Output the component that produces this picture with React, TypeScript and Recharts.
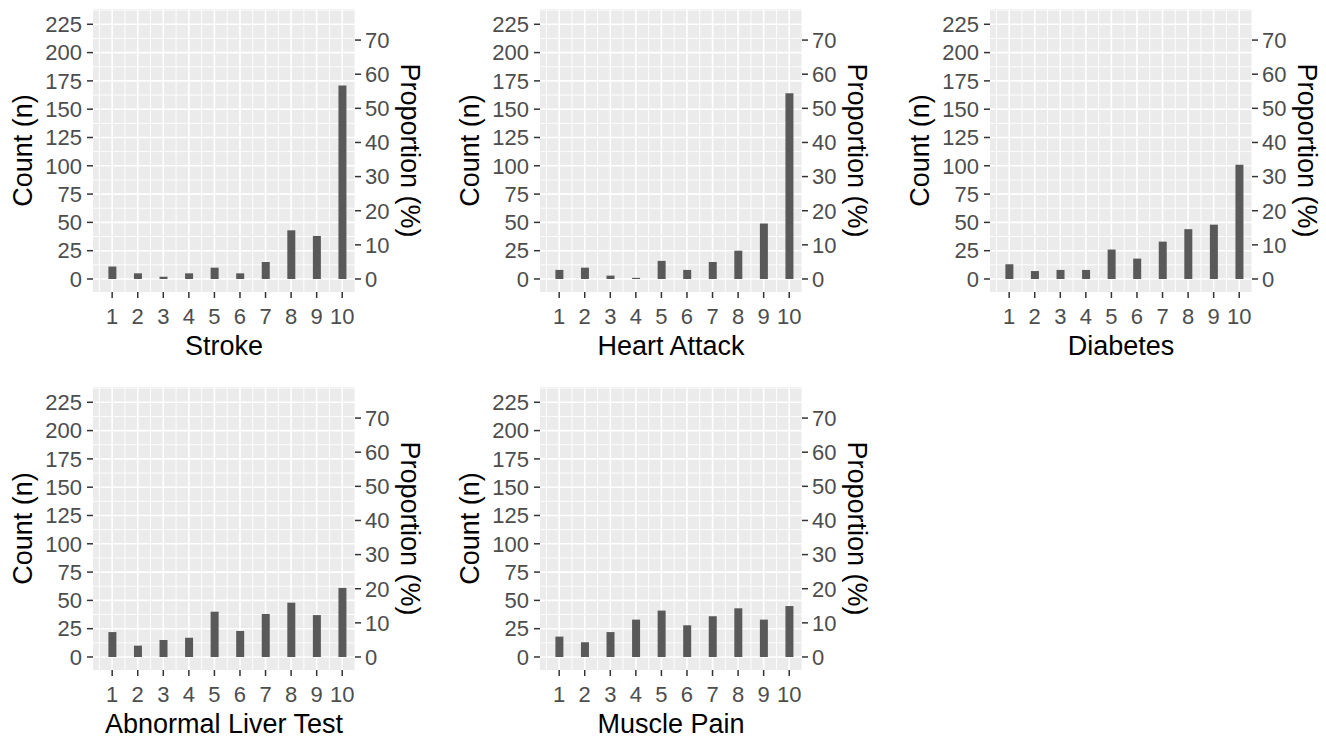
import { BarChart, Bar, XAxis, YAxis, CartesianGrid } from 'recharts'

// ---------- data ----------

const scores = [1, 2, 3, 4, 5, 6, 7, 8, 9, 10]

const stroke = [11, 5, 2, 5, 10, 5, 15, 43, 38, 171]
const heartAttack = [8, 10, 3, 1, 16, 8, 15, 25, 49, 164]
const diabetes = [13, 7, 8, 8, 26, 18, 33, 44, 48, 101]
const abnormalLiverTest = [22, 10, 15, 17, 40, 23, 38, 48, 37, 61]
const musclePain = [18, 13, 22, 33, 41, 28, 36, 43, 33, 45]

const countTicks = [0, 25, 50, 75, 100, 125, 150, 175, 200, 225]
const countMinor = [12.5, 37.5, 62.5, 87.5, 112.5, 137.5, 162.5, 187.5, 212.5, 237.5]
const pctTicks = [0, 10, 20, 30, 40, 50, 60, 70]
const scoreMinor = [0.5, 1.5, 2.5, 3.5, 4.5, 5.5, 6.5, 7.5, 8.5, 9.5, 10.5]

// respondents behind the proportion axis
const sampleSize = 301.5

const countDomain = [-11.5, 238.5]
const pctDomain = countDomain.map((v) => (v / sampleSize) * 100)

const FONT = '"Liberation Sans", Arial, sans-serif'
const tickStyle = { fill: '#4d4d4d', fontSize: 22, fontFamily: FONT }
const TITLE_SIZE = 27

function Panel({ title, counts, left, top }: { title: string; counts: number[]; left: number; top: number }) {
    const data = scores.map((s, i) => ({ score: s, n: counts[i] }))
    return (
        <div style={{ position: 'absolute', left, top }}>
            <BarChart width={440} height={370} data={data} margin={{ top: 9, right: 0, bottom: 0, left: 0 }}>
                <CartesianGrid
                    yAxisId="n"
                    fill="#ebebeb"
                    stroke="#ffffff"
                    strokeWidth={0.9}
                    horizontalValues={countMinor}
                    verticalValues={scoreMinor}
                />
                <CartesianGrid
                    yAxisId="n"
                    stroke="#ffffff"
                    strokeWidth={1.6}
                    horizontalValues={countTicks}
                    verticalValues={scores}
                />
                <XAxis
                    type="number"
                    dataKey="score"
                    domain={[0.25, 10.5]}
                    ticks={scores}
                    interval={0}
                    allowDataOverflow
                    height={78}
                    axisLine={false}
                    tickLine={{ stroke: '#333333', strokeWidth: 1.5 }}
                    tickSize={6}
                    tickMargin={10}
                    tick={tickStyle}
                    label={(p: any) => {
                        const vb = p.viewBox
                        return (
                            <text
                                x={vb.x + vb.width / 2}
                                y={vb.y + 63}
                                textAnchor="middle"
                                fontSize={TITLE_SIZE}
                                fontFamily={FONT}
                                fill="#000000">
                                {title}
                            </text>
                        )
                    }}
                />
                <YAxis
                    yAxisId="n"
                    domain={countDomain}
                    ticks={countTicks}
                    interval={0}
                    allowDataOverflow
                    width={93}
                    axisLine={false}
                    tickLine={{ stroke: '#333333', strokeWidth: 1.5 }}
                    tickSize={6}
                    tickMargin={5}
                    tick={tickStyle}
                    label={(p: any) => {
                        const vb = p.viewBox
                        const cy = vb.y + vb.height / 2
                        return (
                            <text
                                x={vb.x + 32}
                                y={cy}
                                transform={`rotate(-90, ${vb.x + 32}, ${cy})`}
                                textAnchor="middle"
                                fontSize={TITLE_SIZE}
                                fontFamily={FONT}
                                fill="#000000">
                                Count (n)
                            </text>
                        )
                    }}
                />
                <YAxis
                    yAxisId="pct"
                    orientation="right"
                    domain={pctDomain}
                    ticks={pctTicks}
                    interval={0}
                    allowDataOverflow
                    width={85}
                    axisLine={false}
                    tickLine={{ stroke: '#333333', strokeWidth: 1.5 }}
                    tickSize={6}
                    tickMargin={4}
                    tick={tickStyle}
                    label={(p: any) => {
                        const vb = p.viewBox
                        const cy = vb.y + vb.height / 2
                        const x = vb.x + 46
                        return (
                            <text
                                x={x}
                                y={cy}
                                transform={`rotate(90, ${x}, ${cy})`}
                                textAnchor="middle"
                                fontSize={TITLE_SIZE}
                                fontFamily={FONT}
                                fill="#000000">
                                Proportion (%)
                            </text>
                        )
                    }}
                />
                <Bar yAxisId="n" dataKey="n" fill="#595959" barSize={8} isAnimationActive={false} />
            </BarChart>
        </div>
    )
}

export default function App() {
    return (
        <div
            style={{
                position: 'absolute',
                left: 0,
                top: 0,
                width: 1326,
                height: 740,
                background: '#ffffff',
                fontFamily: FONT,
            }}>
            <Panel title="Stroke" counts={stroke} left={0} top={0} />
            <Panel title="Heart Attack" counts={heartAttack} left={447} top={0} />
            <Panel title="Diabetes" counts={diabetes} left={897} top={0} />
            <Panel title="Abnormal Liver Test" counts={abnormalLiverTest} left={0} top={378} />
            <Panel title="Muscle Pain" counts={musclePain} left={447} top={378} />
        </div>
    )
}
